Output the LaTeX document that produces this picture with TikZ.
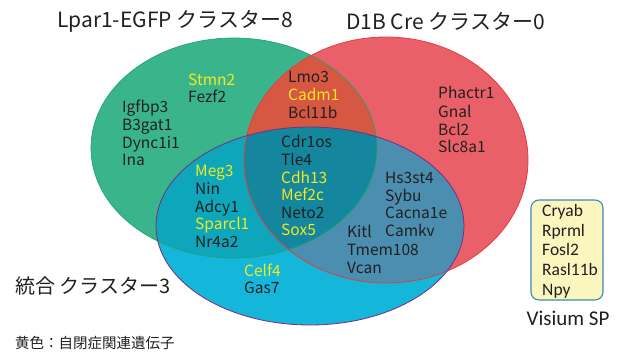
\documentclass[tikz,border=0pt]{standalone}
\usepackage{fontspec}
\setmainfont{Noto Sans CJK JP}
\newfontfamily\boxfont{Carlito}
\definecolor{cG}{HTML}{3AB58B}
\definecolor{cR}{HTML}{EA6068}
\definecolor{cGR}{HTML}{D65842}
\definecolor{cB}{HTML}{14B6DA}
\definecolor{cBG}{HTML}{0EA6BA}
\definecolor{cBR}{HTML}{4B8EB0}
\definecolor{cBGR}{HTML}{14869E}
\definecolor{lnG}{HTML}{23A176}
\definecolor{lnR}{HTML}{E63B45}
\definecolor{lnB}{HTML}{7B2D7D}
\definecolor{ylw}{HTML}{F3EA1C}
\definecolor{txt}{HTML}{231F20}
\definecolor{boxY}{HTML}{FBF5BE}
\definecolor{boxB}{HTML}{3A8CB8}
\tikzset{
  gene/.style={anchor=base west, inner sep=0pt, text=txt, font=\fontsize{15.5}{17}\selectfont},
  agene/.style={gene, text=ylw},
  title/.style={anchor=west, inner sep=0pt, text=txt, font=\fontsize{21}{24}\selectfont},
  note/.style={anchor=west, inner sep=0pt, text=txt, font=\fontsize{14.5}{17}\selectfont},
  boxgene/.style={anchor=base west, inner sep=0pt, text=txt, font=\boxfont\fontsize{17.5}{20}\selectfont},
}
\begin{document}
\begin{tikzpicture}[x=1pt,y=-1pt]
\useasboundingbox (0,0) rectangle (627,354);
% region fills
\fill[cG] (234,148) ellipse [x radius=143, y radius=110];
\fill[cR] (386,160) ellipse [x radius=142, y radius=123];
\begin{scope}
  \clip (234,148) ellipse [x radius=143, y radius=110];
  \fill[cGR] (386,160) ellipse [x radius=142, y radius=123];
\end{scope}
\fill[cB] (310,226) ellipse [x radius=154, y radius=99];
\begin{scope}
  \clip (310,226) ellipse [x radius=154, y radius=99];
  \fill[cBG] (234,148) ellipse [x radius=143, y radius=110];
  \fill[cBR] (386,160) ellipse [x radius=142, y radius=123];
  \clip (234,148) ellipse [x radius=143, y radius=110];
  \fill[cBGR] (386,160) ellipse [x radius=142, y radius=123];
\end{scope}
% outlines
\draw[lnG, line width=0.7pt] (234,148) ellipse [x radius=143, y radius=110];
\draw[lnR, line width=0.8pt] (386,160) ellipse [x radius=142, y radius=123];
\draw[lnB, line width=0.8pt] (310,226) ellipse [x radius=154, y radius=99];

% titles
\node[title] (t1) at (57,21) {Lpar1-EGFP クラスター8};
\node[title] (t2) at (346,21) {D1B Cre クラスター0};
\node[title, font=\fontsize{20}{24}\selectfont] (t3) at (15,286) {統合 クラスター3};
\node[note] (n1) at (15,343) {黄色：自閉症関連遺伝子};

% green only
\node[agene] (g1) at (188,85) {Stmn2};
\node[gene] (g2) at (188,102) {Fezf2};
\node[gene] (g3) at (122,112) {Igfbp3};
\node[gene] (g4) at (122,130) {B3gat1};
\node[gene] (g5) at (122,148) {Dync1i1};
\node[gene] (g6) at (122,165) {Ina};
% green and red
\node[gene] (gr1) at (288,82) {Lmo3};
\node[agene] (gr2) at (288,100) {Cadm1};
\node[gene] (gr3) at (288,118) {Bcl11b};
% red only
\node[gene] (r1) at (438,98) {Phactr1};
\node[gene] (r2) at (438,117) {Gnal};
\node[gene] (r3) at (438,135) {Bcl2};
\node[gene] (r4) at (438,152) {Slc8a1};
% all three
\node[gene] (a1) at (281,147) {Cdr1os};
\node[gene] (a2) at (281,165) {Tle4};
\node[agene] (a3) at (281,183) {Cdh13};
\node[agene] (a4) at (281,200) {Mef2c};
\node[gene] (a5) at (281,218) {Neto2};
\node[agene] (a6) at (281,235) {Sox5};
% blue and green
\node[agene] (bg1) at (195,176) {Meg3};
\node[gene] (bg2) at (195,194) {Nin};
\node[gene] (bg3) at (195,212) {Adcy1};
\node[agene] (bg4) at (195,229) {Sparcl1};
\node[gene] (bg5) at (195,247) {Nr4a2};
% blue and red
\node[gene] (br1) at (385,183) {Hs3st4};
\node[gene] (br2) at (385,201) {Sybu};
\node[gene] (br3) at (385,218) {Cacna1e};
\node[gene] (br4) at (385,236) {Camkv};
\node[gene] (br5) at (347,237) {Kitl};
\node[gene] (br6) at (347,255) {Tmem108};
\node[gene] (br7) at (347,273) {Vcan};
% blue only
\node[agene] (b1) at (244,276) {Celf4};
\node[gene] (b2) at (244,293) {Gas7};

% Visium box
\node[draw=boxB, line width=1.1pt, fill=boxY, rounded corners=8pt, minimum width=72pt, minimum height=100pt, inner sep=0pt] (vis) at (567,250) {};
\node[boxgene] (v1) at (542,216) {Cryab};
\node[boxgene] (v2) at (542,236) {Rprml};
\node[boxgene] (v3) at (542,255) {Fosl2};
\node[boxgene] (v4) at (542,275) {Rasl11b};
\node[boxgene] (v5) at (542,295) {Npy};
\node[anchor=center, inner sep=0pt, text=txt, font=\boxfont\fontsize{21}{24}\selectfont] (vt) at (568,318) {Visium SP};
\end{tikzpicture}
\end{document}
